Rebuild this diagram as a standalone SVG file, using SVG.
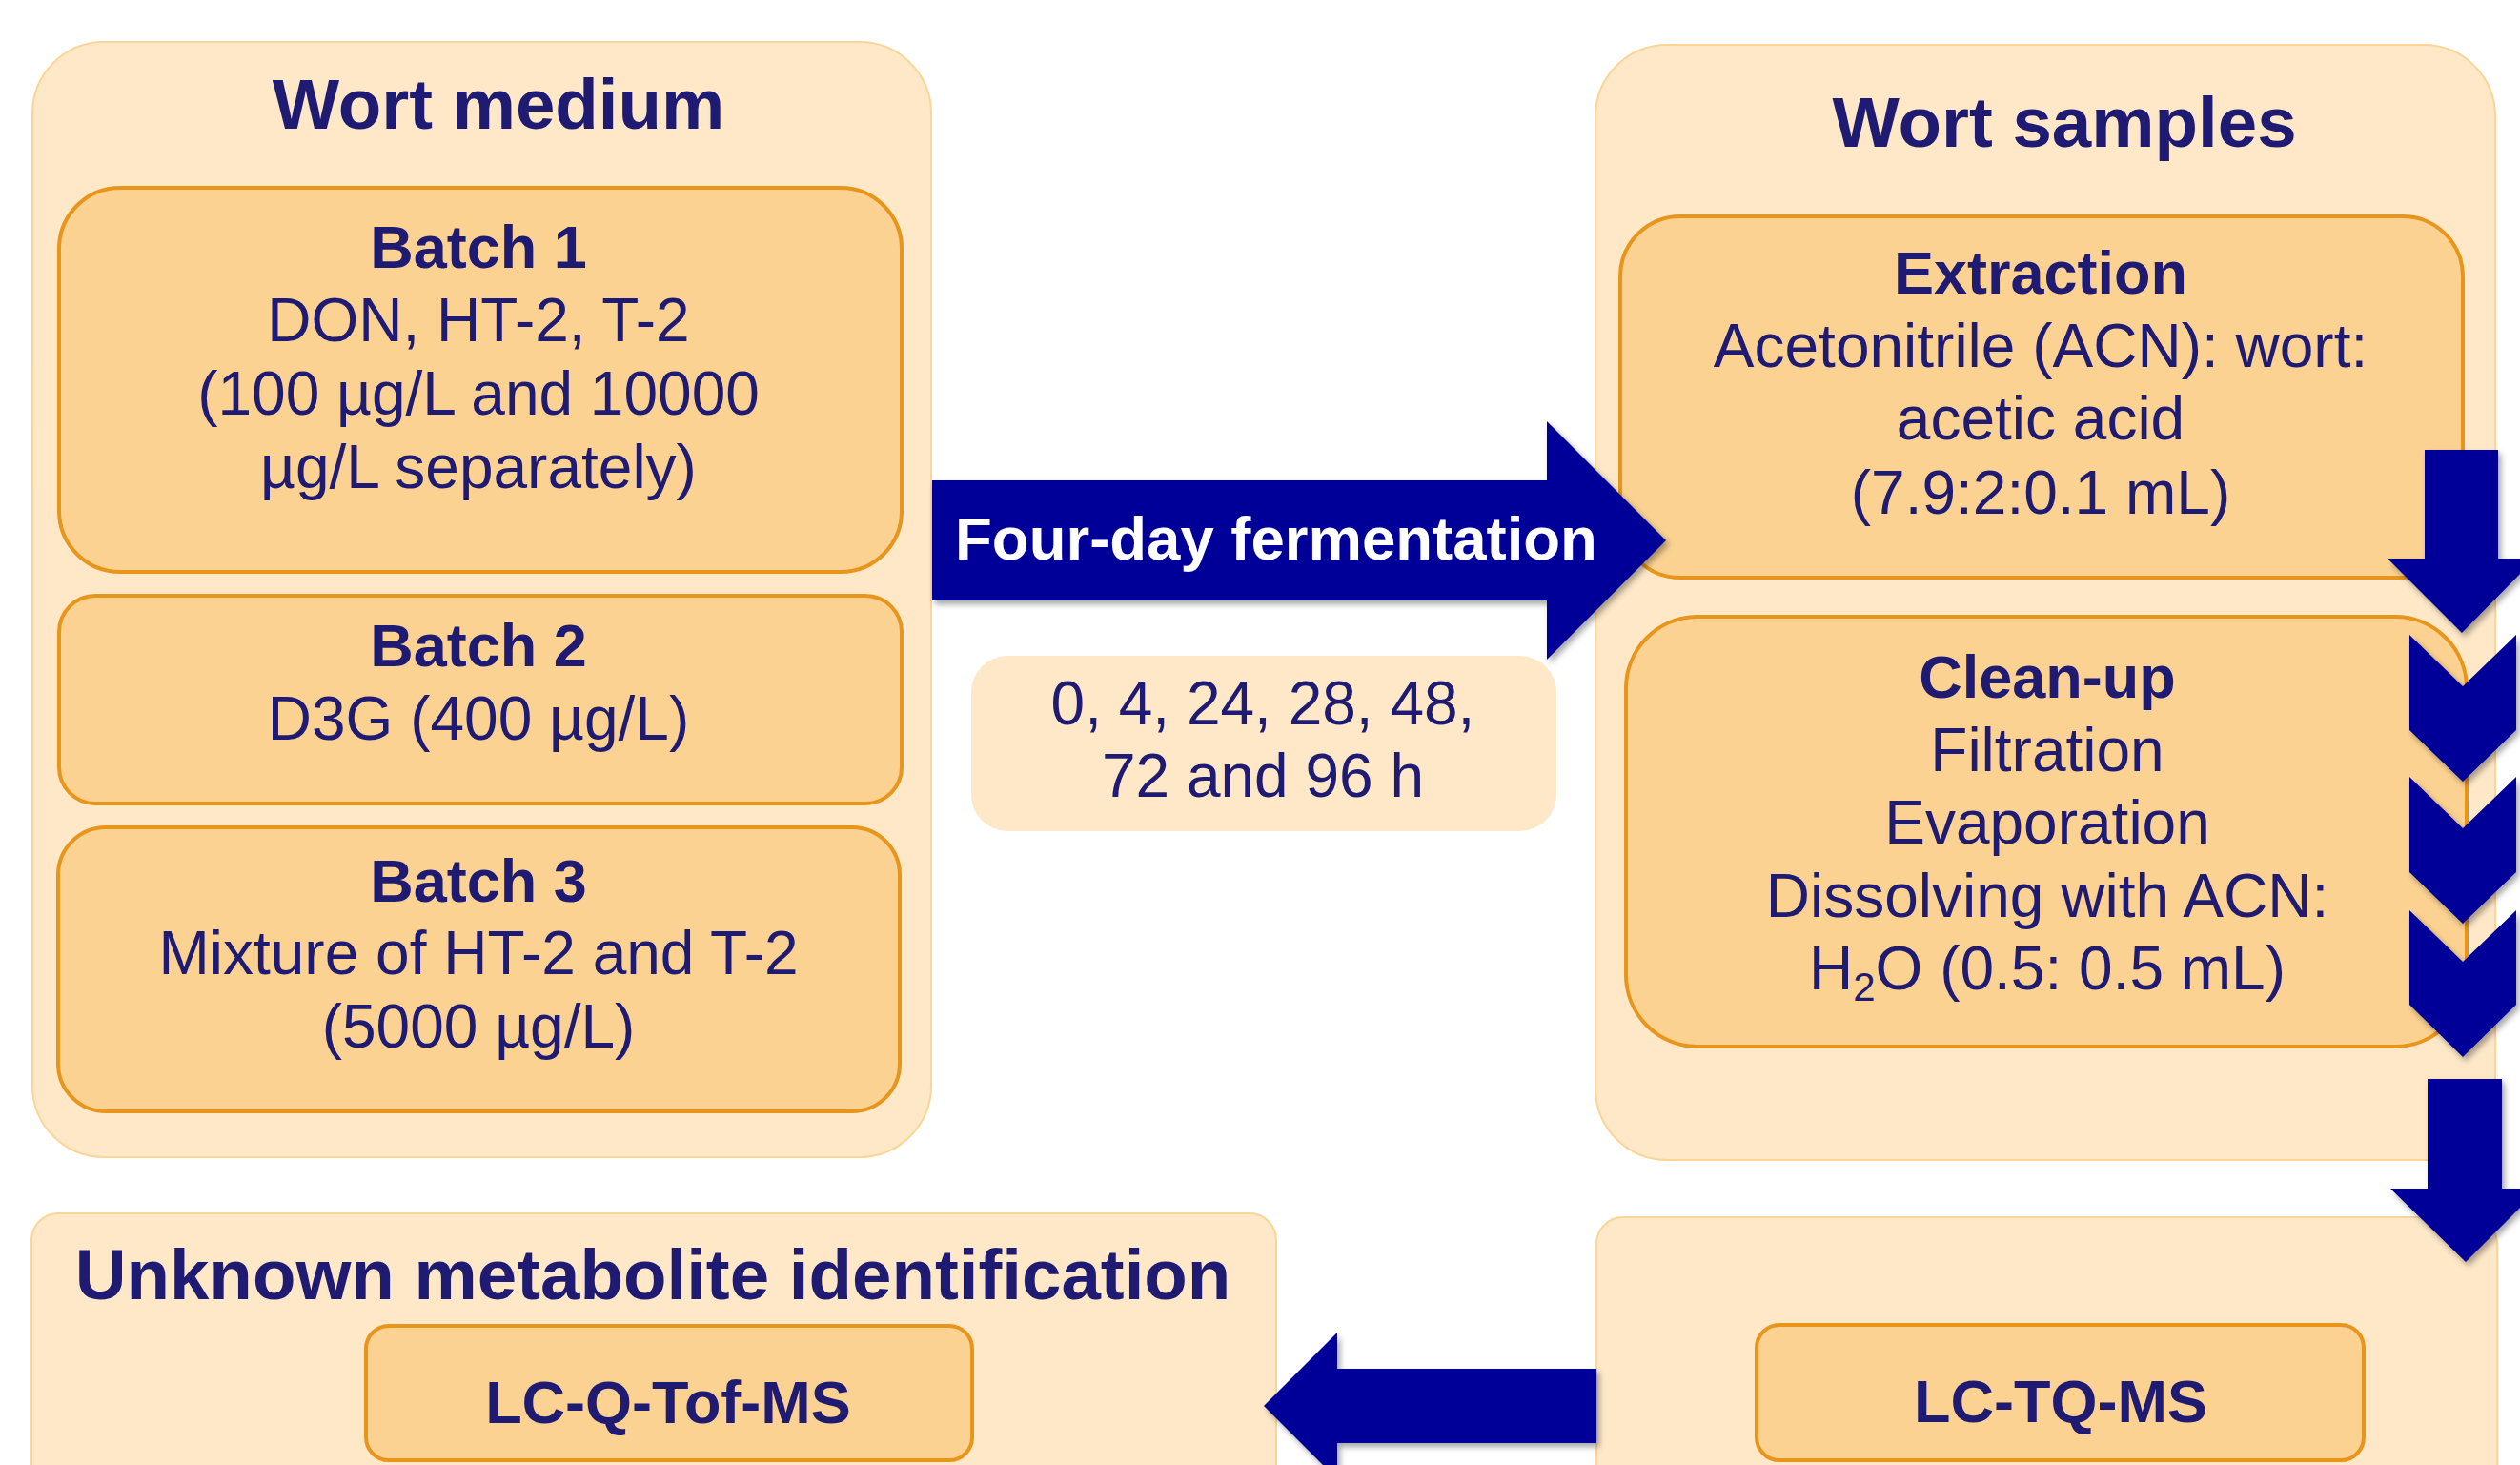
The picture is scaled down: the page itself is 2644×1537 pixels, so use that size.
<svg xmlns="http://www.w3.org/2000/svg" width="2644" height="1537" viewBox="0 0 2644 1537">
<defs>
<style>
.outer{fill:#FEE8C8;stroke:#FAD597;stroke-width:2}
.inner{fill:#FBD291;stroke:#E8951C;stroke-width:4}
.soft{fill:#FEE8C8}
.t{font-family:"Liberation Sans",Arial,sans-serif;fill:#1F1B73;text-anchor:middle;font-size:64px}
.b{font-weight:bold;font-size:63px}
.title{font-size:74.5px;font-weight:bold}
.w{fill:#FFFFFF;font-size:63.5px}
.arr{fill:#000099;filter:url(#sh)}
</style>
<filter id="sh" x="-20%" y="-20%" width="140%" height="140%">
<feDropShadow dx="3" dy="4" stdDeviation="3" flood-color="#000000" flood-opacity="0.35"/>
</filter>
</defs>
<rect width="2644" height="1537" fill="#FFFFFF"/>

<g id="wort-medium">
<rect class="outer" x="34" y="44" width="943" height="1170" rx="75"/>
<text class="t title" x="523" y="135">Wort medium</text>
</g>
<g id="batch1">
<rect class="inner" x="62" y="197" width="884" height="403" rx="64"/>
<text class="t b" x="502" y="281">Batch 1</text>
<text class="t" x="502" y="358">DON, HT-2, T-2</text>
<text class="t" x="502" y="435">(100 µg/L and 10000</text>
<text class="t" x="502" y="512">µg/L separately)</text>
</g>
<g id="batch2">
<rect class="inner" x="62" y="625" width="884" height="218" rx="38"/>
<text class="t b" x="502" y="699">Batch 2</text>
<text class="t" x="502" y="776">D3G (400 µg/L)</text>
</g>
<g id="batch3">
<rect class="inner" x="61" y="868" width="883" height="298" rx="50"/>
<text class="t b" x="502" y="946">Batch 3</text>
<text class="t" x="502" y="1022">Mixture of HT-2 and T-2</text>
<text class="t" x="502" y="1099">(5000 µg/L)</text>
</g>
<g id="time-points">
<rect class="soft" x="1019" y="688" width="614" height="184" rx="38"/>
<text class="t" x="1325" y="760">0, 4, 24, 28, 48,</text>
<text class="t" x="1325" y="836">72 and 96 h</text>
</g>
<g id="wort-samples">
<rect class="outer" x="1674" y="47" width="944" height="1170" rx="75"/>
<text class="t title" x="2166" y="154">Wort samples</text>
</g>
<g id="extraction">
<rect class="inner" x="1700" y="227" width="884" height="379" rx="63"/>
<text class="t b" x="2141" y="308">Extraction</text>
<text class="t" x="2141" y="385">Acetonitrile (ACN): wort:</text>
<text class="t" x="2141" y="461">acetic acid</text>
<text class="t" x="2141" y="539">(7.9:2:0.1 mL)</text>
</g>
<g id="clean-up">
<rect class="inner" x="1706" y="647" width="882" height="451" rx="75"/>
<text class="t b" x="2148" y="732">Clean-up</text>
<text class="t" x="2148" y="809">Filtration</text>
<text class="t" x="2148" y="885">Evaporation</text>
<text class="t" x="2148" y="962">Dissolving with ACN:</text>
<text class="t" x="2148" y="1038">H<tspan font-size="42" dy="12">2</tspan><tspan dy="-12">O (0.5: 0.5 mL)</tspan></text>
</g>
<g id="unknown-metabolite">
<rect class="outer" x="33" y="1273" width="1306" height="320" rx="28"/>
<text class="t title" x="685" y="1363">Unknown metabolite identification</text>
</g>
<g id="lc-q-tof-ms">
<rect class="inner" x="384" y="1391" width="636" height="141" rx="24"/>
<text class="t b" x="701" y="1493">LC-Q-Tof-MS</text>
</g>
<g id="lc-tq-ms-panel">
<rect class="outer" x="1675" y="1277" width="945" height="320" rx="28"/>
</g>
<g id="lc-tq-ms">
<rect class="inner" x="1843" y="1390" width="637" height="142" rx="24"/>
<text class="t b" x="2162" y="1492">LC-TQ-MS</text>
</g>

<g id="connectors">
<g id="fermentation-arrow">
<polygon class="arr" points="978,504 1623,504 1623,442 1748,567 1623,692 1623,630 978,630"/>
<text class="t b w" x="1339" y="587">Four-day fermentation</text>
</g>
<polygon class="arr" points="2544,472 2621,472 2621,586 2660,586 2583,664 2505,586 2544,586"/>
<polygon class="arr" points="2528,666 2584,720 2640,666 2640,766 2584,820 2528,766"/>
<polygon class="arr" points="2528,815 2584,869 2640,815 2640,915 2584,969 2528,915"/>
<polygon class="arr" points="2528,955 2584,1009 2640,955 2640,1054 2584,1109 2528,1054"/>
<polygon class="arr" points="2547,1132 2625,1132 2625,1247 2664,1247 2587,1324 2508,1247 2547,1247"/>
<polygon class="arr" points="1675,1436 1403,1436 1403,1398 1326,1475 1403,1552 1403,1514 1675,1514"/>
</g>
</svg>
